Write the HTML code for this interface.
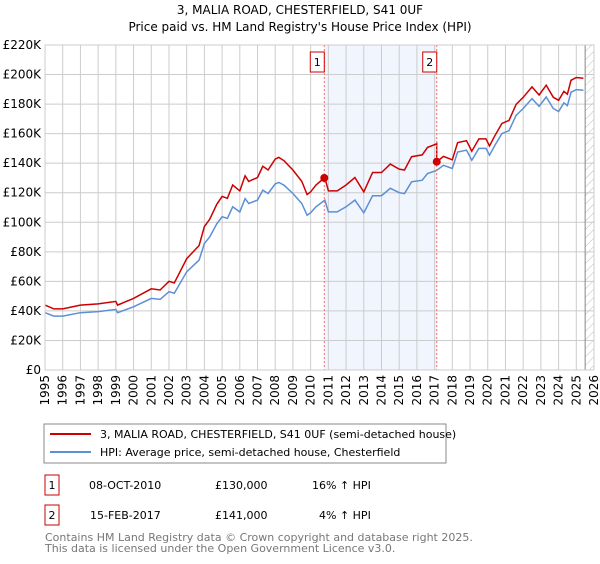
<!DOCTYPE html>
<html><head><meta charset="utf-8"><style>
body{margin:0;background:#fff;font-family:"DejaVu Sans","Liberation Sans",sans-serif;}
svg text{font-family:"DejaVu Sans","Liberation Sans",sans-serif;}
</style></head><body>
<svg id="chart" width="600" height="560">
<defs><pattern id="hatch" width="6" height="6" patternUnits="userSpaceOnUse" patternTransform="rotate(45)"><line x1="0" y1="0" x2="0" y2="6" stroke="#bbb" stroke-width="1"/></pattern></defs>
<text x="300" y="14" text-anchor="middle" font-size="12">3, MALIA ROAD, CHESTERFIELD, S41 0UF</text>
<text x="300" y="31" text-anchor="middle" font-size="12">Price paid vs. HM Land Registry's House Price Index (HPI)</text>
<g id="grid"></g><g id="marks"></g><g id="axes"></g>
<rect x="44" y="424" width="402" height="39" fill="none" stroke="#888"/>
<line x1="50" y1="434" x2="91" y2="434" stroke="#cc0000" stroke-width="2"/>
<text x="100" y="438" font-size="11">3, MALIA ROAD, CHESTERFIELD, S41 0UF (semi-detached house)</text>
<line x1="50" y1="452" x2="91" y2="452" stroke="#5b8fd6" stroke-width="2"/>
<text x="100" y="456" font-size="11">HPI: Average price, semi-detached house, Chesterfield</text>
<g>
<rect x="45" y="475" width="14" height="20" fill="none" stroke="#cc0000"/><text x="52" y="489" font-size="11" text-anchor="middle">1</text>
<text x="89" y="489" font-size="11">08-OCT-2010</text><text x="215" y="489" font-size="11">£130,000</text><text x="312" y="489" font-size="11">16% ↑ HPI</text></g>
<g>
<rect x="45" y="505" width="14" height="20" fill="none" stroke="#cc0000"/><text x="52" y="519" font-size="11" text-anchor="middle">2</text>
<text x="90" y="519" font-size="11">15-FEB-2017</text><text x="215" y="519" font-size="11">£141,000</text><text x="319" y="519" font-size="11">4% ↑ HPI</text></g>
<text x="45" y="541" font-size="11" fill="#777">Contains HM Land Registry data © Crown copyright and database right 2025.</text>
<text x="45" y="552" font-size="11" fill="#777">This data is licensed under the Open Government Licence v3.0.</text>
</svg>
<script>
const hpiYears=[1995,1995.5,1996,1997,1998,1999,1999.1,2000,2001,2001.5,2002,2002.3,2003,2003.7,2004,2004.3,2004.7,2005,2005.3,2005.6,2006,2006.3,2006.5,2007,2007.3,2007.6,2008,2008.2,2008.5,2009,2009.5,2009.8,2010,2010.3,2010.8,2011,2011.5,2012,2012.5,2013,2013.5,2014,2014.5,2015,2015.3,2015.7,2016.3,2016.6,2017.1,2017.5,2018,2018.3,2018.8,2019.1,2019.5,2019.9,2020.1,2020.4,2020.8,2021.2,2021.6,2022,2022.5,2022.9,2023.3,2023.7,2024,2024.3,2024.5,2024.7,2025,2025.4];
const hpiValues=[38.8,36.5,36.5,38.8,39.5,41,38.8,42.8,48.5,47.8,53,52,66.5,74.4,85.7,90,99,103.7,102.6,110.5,107,116,112.7,115,121.7,119.5,126,127,125,119.5,112.7,104.8,106.4,110.5,115,107,107,110.5,115,106.4,118,118,123,120,119.5,127.4,128.5,133,135,138.6,136.4,147.6,148.8,142,150,150,145.4,152,160,162,172.4,177,183.7,178.5,184.8,177,175,180.8,179,188,189.8,189.4];
const saleYears=[2010.77,2017.12];
const salePrices=[130,141];
const saleLabels=["1","2"];
const yTicks=[0,20,40,60,80,100,120,140,160,180,200,220];
const xTicks=[1995,1996,1997,1998,1999,2000,2001,2002,2003,2004,2005,2006,2007,2008,2009,2010,2011,2012,2013,2014,2015,2016,2017,2018,2019,2020,2021,2022,2023,2024,2025,2026];
const L=45,R=594,T=45,B=370,X0=1995,X1=2026,YMAX=220;
const sx=y=>L+(y-X0)/(X1-X0)*(R-L), sy=v=>B-v/YMAX*(B-T);
const NS='http://www.w3.org/2000/svg';
function mk(tag,attrs,parent){const e=document.createElementNS(NS,tag);for(const k in attrs)e.setAttribute(k,attrs[k]);parent.appendChild(e);return e;}
function interp(y){for(let i=0;i<hpiYears.length-1;i++){if(y>=hpiYears[i]&&y<=hpiYears[i+1]){const t=(y-hpiYears[i])/(hpiYears[i+1]-hpiYears[i]);return hpiValues[i]+t*(hpiValues[i+1]-hpiValues[i]);}}return hpiValues[hpiValues.length-1];}
const grid=document.getElementById('grid'),marks=document.getElementById('marks'),axes=document.getElementById('axes');
let r=mk('rect',{x:sx(saleYears[0]),y:T,width:sx(saleYears[1])-sx(saleYears[0]),height:B-T,fill:'#eef2fc',opacity:0.8},grid);


let h=mk('rect',{x:sx(2025.5),y:T,width:R-sx(2025.5),height:B-T,fill:'url(#hatch)'},grid);


yTicks.forEach(v=>{mk('line',{x1:L,x2:R,y1:sy(v),y2:sy(v),stroke:'#ccc'},grid);
 const t=mk('text',{x:L-4,y:sy(v)+4,'text-anchor':'end','font-size':12},axes);t.textContent='£'+(v?v+'K':'0');
 
 });
xTicks.forEach(y=>{mk('line',{x1:sx(y),x2:sx(y),y1:T,y2:B,stroke:'#ccc'},grid);
 const t=mk('text',{transform:`translate(${sx(y)+4},${B+5}) rotate(-90)`,'text-anchor':'end','font-size':12},axes);t.textContent=y;
 
 });
mk('line',{x1:sx(2025.5),x2:sx(2025.5),y1:T,y2:B,stroke:'#888'},grid);
const f0=salePrices[0]/interp(saleYears[0]), f1=salePrices[1]/interp(saleYears[1]);
const redVals=hpiYears.map((y,i)=>hpiValues[i]*(y<saleYears[1]?f0:f1));
let pb=hpiYears.map((y,i)=>sx(y).toFixed(1)+','+sy(hpiValues[i]).toFixed(1)).join(' ');
let hl=mk('polyline',{points:pb,fill:'none',stroke:'#5b8fd6','stroke-width':1.5},marks);


let pts=[];hpiYears.forEach((y,i)=>{if(y<saleYears[1])pts.push([y,redVals[i]]);});
pts.push([saleYears[1],interp(saleYears[1])*f0]);pts.push([saleYears[1],salePrices[1]]);
hpiYears.forEach((y,i)=>{if(y>=saleYears[1])pts.push([y,redVals[i]]);});
let rl=mk('polyline',{points:pts.map(p=>sx(p[0]).toFixed(1)+','+sy(p[1]).toFixed(1)).join(' '),fill:'none',stroke:'#cc0000','stroke-width':1.5},marks);


saleYears.forEach((y,i)=>{
 const vl=mk('line',{x1:sx(y),x2:sx(y),y1:T,y2:B,stroke:'#f07070','stroke-dasharray':'2,2'},marks);
 
 
 const c=mk('circle',{cx:sx(y),cy:sy(salePrices[i]),r:4,fill:'#cc0000'},marks);
 
 
 const b=mk('rect',{x:sx(y)-14,y:52,width:14,height:20,fill:'#fff',stroke:'#cc0000'},marks);
 
 
 const t=mk('text',{x:sx(y)-7,y:66,'text-anchor':'middle','font-size':11},marks);t.textContent=saleLabels[i];
 
 });
mk('rect',{x:L,y:T,width:R-L,height:B-T,fill:'none',stroke:'#ccc'},axes);
</script>
</body></html>
